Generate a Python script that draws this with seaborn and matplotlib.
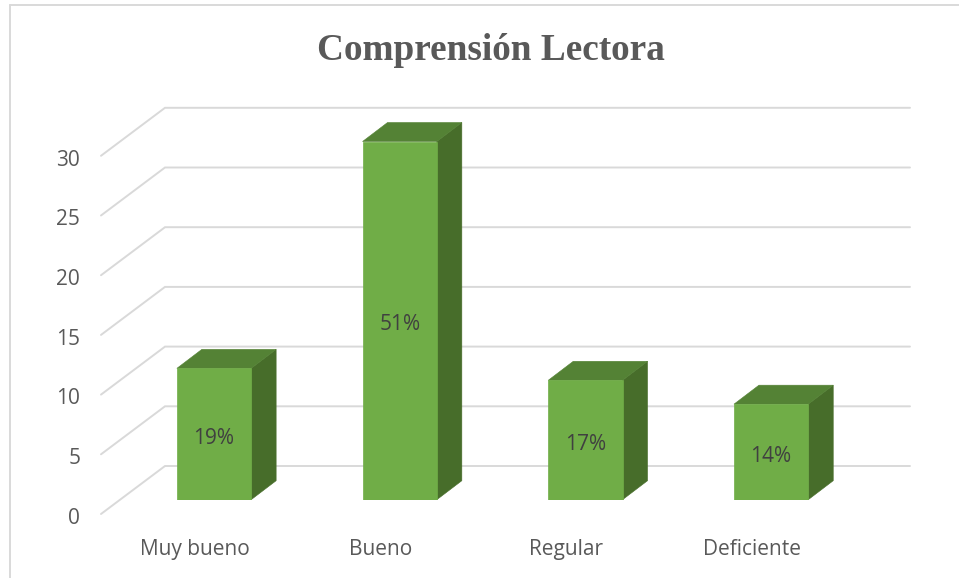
import matplotlib
matplotlib.use("Agg")
import matplotlib.pyplot as plt
from matplotlib.lines import Line2D
from matplotlib.patches import Polygon
from matplotlib.transforms import ScaledTranslation
import pandas as pd
import seaborn as sns

categories = ["Muy bueno", "Bueno", "Regular", "Deficiente"]
values = [11, 30, 10, 8]
percent_labels = ["19%", "51%", "17%", "14%"]
y_ticks = [0, 5, 10, 15, 20, 25, 30]
title = "Comprensión Lectora"

W, H = 959, 578
sns.set_theme(style="white")
plt.rcParams["font.family"] = ["Open Sans", "DejaVu Sans"]

GRID = "#D9D9D9"
FACE, TOP, SIDE = "#70AD47", "#548235", "#476D2A"
TICK_TXT = "#595959"
LABEL_TXT = "#404040"

# layout, in reference pixels
left, right, base, top = 101, 910, 499.7, 60
px_per_cat, px_per_unit = 185.7, 11.94
cat0 = 214

fig = plt.figure(figsize=(W / 100, H / 100), dpi=100, facecolor="white")
ax = fig.add_axes([left / W, 1 - base / H, (right - left) / W, (base - top) / H])
ax.patch.set_alpha(0)

df = pd.DataFrame({"cat": categories, "val": values})
sns.barplot(data=df, x="cat", y="val", color=FACE, saturation=1, width=0.4, ax=ax,
            zorder=3, edgecolor=FACE, linewidth=0.5)

ax.set_xlim((left - cat0) / px_per_cat, (right - cat0) / px_per_cat)
ax.set_ylim(0, (base - top) / px_per_unit)
ax.set_xlabel("")
ax.set_ylabel("")
sns.despine(ax=ax, left=True, bottom=True)

# conversions from pixel offsets to data offsets
ddx = 25 / px_per_cat
ddy = 19 / px_per_unit
front_dy = -14.3 / px_per_unit   # front floor edge below bar base
back_dy = 33.7 / px_per_unit     # back wall above bar base
x0, x1 = ax.get_xlim()
back_x = x0 + 64 / px_per_cat

# gridlines: floor-to-wall diagonal and wall line for each tick
for v in y_ticks:
    ax.plot([x0, back_x, x1], [v + front_dy, v + back_dy, v + back_dy],
            color=GRID, lw=1.4, clip_on=False, zorder=1, solid_joinstyle="miter")

# 3D sides and tops from the bars that seaborn drew
container = ax.containers[0]
for bar in container:
    xa, w, h = bar.get_x(), bar.get_width(), bar.get_height()
    xb = xa + w
    ax.add_patch(Polygon([(xb, 0), (xb + ddx, ddy), (xb + ddx, h + ddy), (xb, h)],
                         closed=True, fc=SIDE, ec=SIDE, lw=0.4, zorder=2.6))
    ax.add_patch(Polygon([(xa, h), (xa + ddx, h + ddy), (xb + ddx, h + ddy), (xb, h)],
                         closed=True, fc=TOP, ec=TOP, lw=0.4, zorder=2.6))

bar_texts = ax.bar_label(container, labels=percent_labels, label_type="center",
                         fontsize=15, color=LABEL_TXT, zorder=5)
for t in bar_texts:
    t.set_position((t.get_position()[0], t.get_position()[1] - 3))

# ticks
ax.set_yticks(y_ticks)
ax.set_xticks(range(len(categories)))
ax.set_xticklabels(categories)
ax.tick_params(axis="y", length=0, pad=15, labelsize=15, labelcolor=TICK_TXT)
ax.tick_params(axis="x", length=0, pad=28, labelsize=15, labelcolor=TICK_TXT)
ydown = ScaledTranslation(0, -16 / 100, fig.dpi_scale_trans)
xleft = ScaledTranslation(-19 / 100, 0, fig.dpi_scale_trans)
for lab in ax.get_yticklabels():
    lab.set_transform(lab.get_transform() + ydown)
for lab in ax.get_xticklabels():
    lab.set_transform(lab.get_transform() + xleft)

fig.suptitle(title, x=490.5 / W, y=1 - 51 / H, va="center", ha="center",
             fontsize=26.8, fontweight="bold", color="#595959",
             family=["Liberation Serif", "DejaVu Serif"])

# chart frame (top and left edges only are visible)
fig.add_artist(Line2D([10 / W, 10 / W], [0, 1 - 5 / H], color=GRID, lw=1.4))
fig.add_artist(Line2D([10 / W, 1], [1 - 5 / H, 1 - 5 / H], color=GRID, lw=1.4))

fig.savefig("out.png", dpi=100)
